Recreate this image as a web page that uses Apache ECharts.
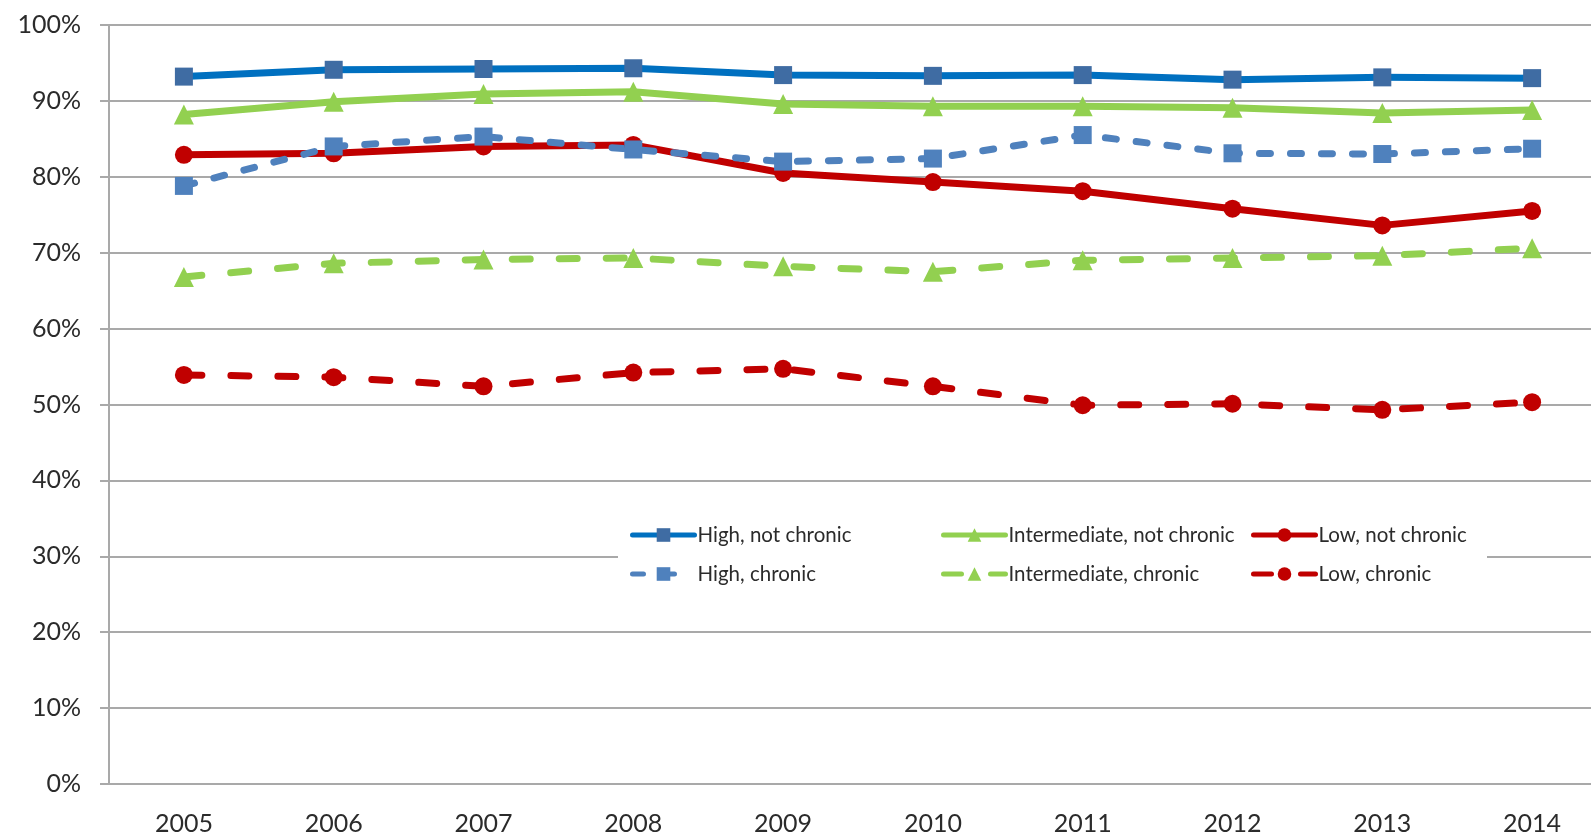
<!DOCTYPE html>
<html>
<head>
<meta charset="utf-8">
<script src="https://cdn.jsdelivr.net/npm/echarts@6/dist/echarts.min.js"></script>
<style>
  html, body { margin: 0; padding: 0; background: #ffffff; overflow: hidden; }
  /* plot area runs past the right edge of the page, as in the printed figure */
  #chart { width: 1610px; height: 836px; }
</style>
</head>
<body>
<div id="chart"></div>
<script>
// Share of respondents (%) by group, 2005–2014
const years = ['2005', '2006', '2007', '2008', '2009', '2010', '2011', '2012', '2013', '2014'];

const highNotChronic = [93.2, 94.1, 94.2, 94.3, 93.4, 93.3, 93.4, 92.8, 93.1, 93.0];
const intermediateNotChronic = [88.2, 89.9, 90.9, 91.2, 89.6, 89.3, 89.3, 89.1, 88.4, 88.8];
const lowNotChronic = [82.9, 83.1, 84.0, 84.2, 80.5, 79.3, 78.1, 75.8, 73.6, 75.5];
const highChronic = [78.8, 84.0, 85.3, 83.6, 82.0, 82.4, 85.5, 83.1, 83.0, 83.7];
const intermediateChronic = [66.8, 68.6, 69.1, 69.3, 68.2, 67.5, 69.0, 69.3, 69.6, 70.6];
const lowChronic = [53.9, 53.6, 52.4, 54.2, 54.7, 52.4, 49.9, 50.1, 49.3, 50.3];

const yTicks = { min: 0, max: 100, interval: 10 };

const FONT = 'Lato';
const TEXT = '#2b2b2b';
const GRID = '#a9a9a9';

const BLUE_LINE = '#0070C0';
const BLUE_MARK = '#3F6CA3';
const BLUE_LIGHT = '#4F81BD';
const GREEN = '#92D050';
const RED = '#C00000';

function solid(name, data, lineColor, markColor, symbol, size) {
  return {
    name, type: 'line', data,
    symbol, symbolSize: size,
    lineStyle: { color: lineColor, width: 7, cap: 'round', join: 'round' },
    itemStyle: { color: markColor },
    emphasis: { disabled: true },
    animation: false
  };
}
function dashed(name, data, color, symbol, size, dash) {
  return {
    name, type: 'line', data,
    symbol, symbolSize: size,
    lineStyle: { color, width: 7, type: dash, cap: 'round', join: 'round' },
    itemStyle: { color },
    emphasis: { disabled: true },
    animation: false
  };
}

const legendBase = {
  orient: 'vertical',
  top: 524,
  padding: 0,
  itemWidth: 62,
  itemHeight: 17,
  itemGap: 17,
  lineStyle: { width: 5 },
  textStyle: { fontFamily: FONT, fontSize: 20.5, color: TEXT, lineHeight: 22, padding: [0, 0, 0, -2] },
  selectedMode: false
};

const chart = echarts.init(document.getElementById('chart'), null, { renderer: 'canvas' });
chart.setOption({
  backgroundColor: '#ffffff',
  animation: false,
  grid: { left: 109, top: 25, right: 3, height: 761, containLabel: false },
  xAxis: {
    type: 'category',
    data: years,
    boundaryGap: true,
    axisLine: { lineStyle: { color: GRID, width: 2 } },
    axisTick: { length: 10, lineStyle: { color: GRID, width: 2 } },
    axisLabel: { fontFamily: FONT, fontSize: 25, color: TEXT, margin: 27 },
    splitLine: { show: false }
  },
  yAxis: {
    type: 'value',
    min: yTicks.min, max: yTicks.max, interval: yTicks.interval,
    axisLine: { show: true, lineStyle: { color: GRID, width: 2 } },
    axisTick: { show: true, length: 9, lineStyle: { color: GRID, width: 2 } },
    axisLabel: { fontFamily: FONT, fontSize: 25, color: TEXT, margin: 28, formatter: '{value}%' },
    splitLine: { lineStyle: { color: GRID, width: 2 } }
  },
  graphic: [{
    type: 'rect', left: 618, top: 518, z: 3,
    shape: { width: 869, height: 76 },
    style: { fill: '#ffffff' }
  }],
  legend: [
    Object.assign({}, legendBase, { left: 630, data: ['High, not chronic', 'High, chronic'] }),
    Object.assign({}, legendBase, { left: 941, data: ['Intermediate, not chronic', 'Intermediate, chronic'] }),
    Object.assign({}, legendBase, { left: 1251, data: ['Low, not chronic', 'Low, chronic'] })
  ],
  series: [
    solid('High, not chronic', highNotChronic, BLUE_LINE, BLUE_MARK, 'rect', 18),
    solid('Intermediate, not chronic', intermediateNotChronic, GREEN, GREEN, 'triangle', 20),
    solid('Low, not chronic', lowNotChronic, RED, RED, 'circle', 18),
    dashed('High, chronic', highChronic, BLUE_LIGHT, 'rect', 18, [11, 20]),
    dashed('Intermediate, chronic', intermediateChronic, GREEN, 'triangle', 20, [18, 29]),
    dashed('Low, chronic', lowChronic, RED, 'circle', 18, [18, 29])
  ]
});
</script>
</body>
</html>
